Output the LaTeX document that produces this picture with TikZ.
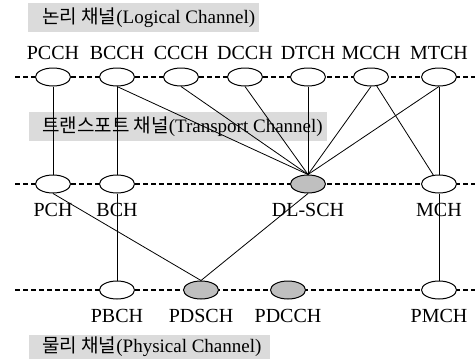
\documentclass[tikz,border=0pt]{standalone}
\usepackage{fontspec}
\setmainfont{Liberation Serif}
\newfontfamily\kr{Noto Sans CJK KR}
\usepackage{tikz}
\usetikzlibrary{shapes.geometric}

\tikzset{
 chan/.style={ellipse, draw, line width=1pt, fill=white, minimum width=35pt, minimum height=18pt, inner sep=0pt},
 used/.style={chan, fill=black!25},
 lane/.style={line width=1.4pt, dash pattern=on 5pt off 3pt},
 band/.style={fill=black!14},
 head/.style={anchor=west, inner sep=0pt, font=\fontsize{19}{21}\selectfont},
 link/.style={line width=0.8pt}
}

\begin{document}
\begin{tikzpicture}[x=1pt, y=-1pt, font=\fontsize{20}{22}\selectfont]

 \useasboundingbox (0,0) rectangle (475,359);

 % Headings for the three layers
 \fill [band] (28,3) rectangle (259,32);
 \fill [band] (29,112) rectangle (327,141);
 \fill [band] (29,335) rectangle (270,361);
 \node [head] (hlog) at (42,17.5) {{\kr 논리 채널}(Logical Channel)};
 \node [head] (htr) at (42,126.5) {{\kr 트랜스포트 채널}(Transport Channel)};
 \node [head] (hphy) at (42,347) {{\kr 물리 채널}(Physical Channel)};

 % Dashed lines, one per layer
 \coordinate (la) at (15,77);  \coordinate (lb) at (475,77);
 \coordinate (ta) at (15,184); \coordinate (tb) at (475,184);
 \coordinate (pa) at (15,290); \coordinate (pb) at (475,290);
 \draw [lane] (la) -- (lb);
 \draw [lane] (ta) -- (tb);
 \draw [lane] (pa) -- (pb);

 % Logical channels
 \node [chan, label={[label distance=4pt]above:PCCH}] (pcch) at (53,77) {};
 \node [chan, label={[label distance=4pt]above:BCCH}] (bcch) at (117,77) {};
 \node [chan, label={[label distance=4pt]above:CCCH}] (ccch) at (181,77) {};
 \node [chan, label={[label distance=4pt]above:DCCH}] (dcch) at (245,77) {};
 \node [chan, label={[label distance=4pt]above:DTCH}] (dtch) at (308,77) {};
 \node [chan, label={[label distance=4pt]above:MCCH}] (mcch) at (371,77) {};
 \node [chan, label={[label distance=4pt]above:MTCH}] (mtch) at (439,77) {};

 % Transport channels
 \node [chan, label={[label distance=6pt]below:PCH}] (pch) at (53,184) {};
 \node [chan, label={[label distance=6pt]below:BCH}] (bch) at (117,184) {};
 \node [used, label={[label distance=6pt]below:DL-SCH}] (dlsch) at (308,184) {};
 \node [chan, label={[label distance=6pt]below:MCH}] (mch) at (439,184) {};

 % Physical channels
 \node [chan, label={[label distance=6pt]below:PBCH}] (pbch) at (117,290) {};
 \node [used, label={[label distance=6pt]below:PDSCH}] (pdsch) at (201,290) {};
 \node [used, label={[label distance=6pt]below:PDCCH}] (pdcch) at (288,290) {};
 \node [chan, label={[label distance=6pt]below:PMCH}] (pmch) at (439,290) {};

 % Logical -> transport mapping
 \draw [link] (pcch.south) -- (pch.north);
 \draw [link] (bcch.south) -- (bch.north);
 \draw [link] (bcch.south) -- (dlsch.north);
 \draw [link] (ccch.south) -- (dlsch.north);
 \draw [link] (dcch.south) -- (dlsch.north);
 \draw [link] (dtch.south) -- (dlsch.north);
 \draw [link] (mcch.south) -- (dlsch.north);
 \draw [link] (mcch) -- (mch);
 \draw [link] (mtch.south) -- (dlsch.north);
 \draw [link] (mtch.south) -- (mch.north);

 % Transport -> physical mapping
 \draw [link] (pch.south) -- (pdsch.north);
 \draw [link] (bch.south) -- (pbch.north);
 \draw [link] (dlsch.south) -- (pdsch.north);
 \draw [link] (mch.south) -- (pmch.north);

\end{tikzpicture}
\end{document}
